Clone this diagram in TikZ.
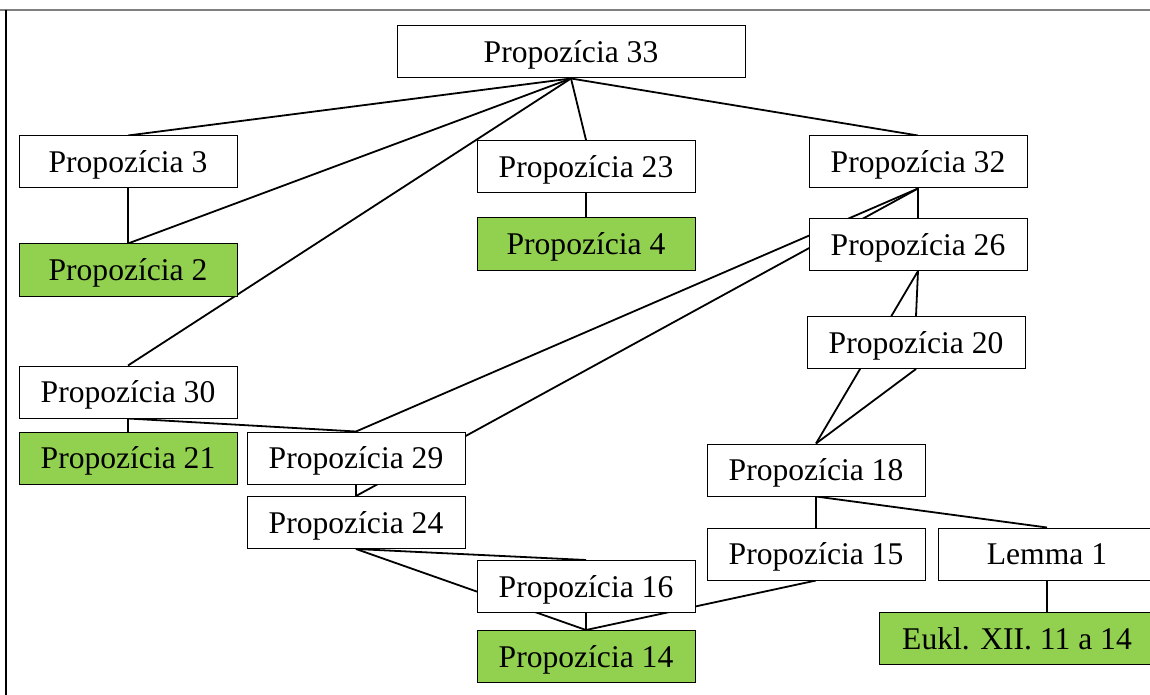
\documentclass[tikz,border=0pt]{standalone}
\usepackage{fontspec}
\setmainfont{Liberation Serif}
\usetikzlibrary{backgrounds}
\definecolor{leafgreen}{HTML}{92D050}
\begin{document}
\begin{tikzpicture}[x=0.5pt,y=-0.5pt,
  prop/.style={draw,fill=white,line width=0.5pt,minimum width=109pt,
    minimum height=26pt,inner sep=0pt,text depth=0pt,
    font=\fontsize{15.8}{19}\selectfont},
  leaf/.style={prop,fill=leafgreen},
  link/.style={line width=0.9pt}]
  \useasboundingbox (0,0) rectangle (1150,695);
  \draw[gray,line width=0.8pt] (0,10) -- (1150,10);
  \draw[line width=0.8pt] (6,10) -- (6,695);
  \node[prop,minimum width=174pt] (p33) at (571,52) {Propozícia 33};
  \foreach \n/\x/\y/\lab in {p3/128/162/3,p23/586/166.5/23,p32/918/162/32,
      p26/918/244.5/26,p20/916/342.5/20,p30/128/392/30,p29/356/458/29,
      p24/356/522.5/24,p18/816/470/18,p15/816/554/15,p16/586/586.5/16}
    \node[prop] (\n) at (\x,\y) {Propozícia \lab};
  \foreach \n/\x/\y/\lab in {p2/128/270/2,p4/586/244/4,p21/128/458/21,p14/586/656.5/14}
    \node[leaf] (\n) at (\x,\y) {Propozícia \lab};
  \node[prop] (lemma) at (1047,554) {Lemma 1};
  \node[leaf,minimum width=138pt] (eukl) at (1017,638.5) {Eukl. XII. 11 a 14};
  \begin{pgfonlayer}{background}
    \foreach \a/\b in {p33/p3,p33/p2,p33/p30,p33/p23,p33/p32,p3/p2,p23/p4,
        p32/p26,p32/p29,p32/p24,p26/p20,p26/p18,p20/p18,p30/p21,p30/p29,
        p29/p24,p24/p16,p24/p14,p16/p14,p18/p15,p18/lemma,p15/p14}
      \draw[link] (\a.south) -- (\b.north);
    \draw[link] (lemma.south) -- (lemma.south |- eukl.north);
  \end{pgfonlayer}
\end{tikzpicture}
\end{document}
